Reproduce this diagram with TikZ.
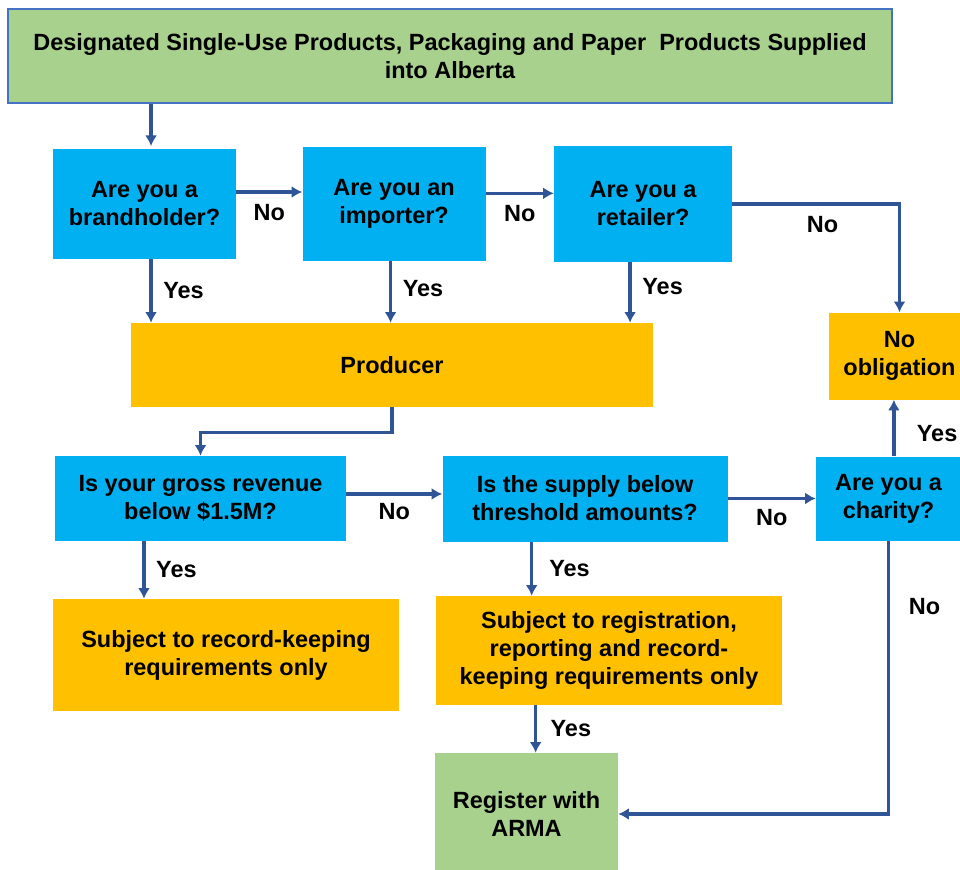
\documentclass[tikz,border=0pt]{standalone}
\usepackage{fontspec}
\setmainfont{Liberation Sans}
\usetikzlibrary{arrows.meta, positioning}

\definecolor{qblue}{RGB}{0,176,240}
\definecolor{ramber}{RGB}{255,192,0}
\definecolor{sgreen}{RGB}{169,209,142}
\definecolor{linkblue}{RGB}{47,85,151}
\definecolor{edgeblue}{RGB}{68,114,196}

\begin{document}
\begin{tikzpicture}[
    x=0.75pt, y=-0.75pt,
    every node/.style={font=\bfseries\fontsize{17.6}{21}\selectfont},
    question/.style={rectangle, fill=qblue, align=center, minimum width=137.25pt, minimum height=84pt},
    outcome/.style={rectangle, fill=ramber, align=center},
    entry/.style={rectangle, fill=sgreen, align=center},
    arrow/.style={-{Latex[length=8pt, width=9pt]}, line width=2.4pt, draw=linkblue},
    lbl/.style={inner sep=2pt}
]
\useasboundingbox (0,0) rectangle (960,870);
\clip (0,0) rectangle (960,870);

% Nodes
\node (top) [entry, draw=edgeblue, line width=1pt, minimum width=663pt, minimum height=70.5pt] at (450,56) {Designated Single-Use Products, Packaging and Paper\ \ Products Supplied\\into Alberta};
\node (brand) [question, minimum height=82.5pt] at (144.5,204) {Are you a\\brandholder?};
\node (importer) [question, minimum height=85.5pt, right=49.5pt of brand] {Are you an\\importer?};
\node (retailer) [question, minimum width=133.5pt, minimum height=86.25pt, right=51pt of importer] {Are you a\\retailer?};
\node (noobl) [outcome, minimum width=105.75pt, minimum height=65.25pt] at (899.5,356) {No\\obligation};
\node (producer) [outcome, minimum width=391.5pt, minimum height=63pt] at (392,365) {Producer};
\node (revenue) [question, minimum width=218.25pt, minimum height=63.75pt] at (200.5,498.5) {Is your gross revenue\\below \$1.5M?};
\node (supply) [question, minimum width=213.75pt, minimum height=64.5pt, right=72pt of revenue] {Is the supply below\\threshold amounts?};
\node (charity) [question, minimum width=108.75pt, minimum height=63pt, right=66pt of supply] {Are you a\\charity?};
\node (record) [outcome, minimum width=259.5pt, minimum height=84pt] at (226,655) {Subject to record-keeping\\requirements only};
\node (registration) [outcome, minimum width=259.5pt, minimum height=81.75pt] at (609,650.5) {Subject to registration,\\reporting and record-\\keeping requirements only};
\node (register) [entry, minimum width=137.25pt, minimum height=91.5pt] at (526.5,814) {Register with\\ARMA};

% Arrows
\draw [arrow] ([xshift=4.9pt]brand.north |- top.south) -- ([xshift=4.9pt, yshift=2pt]brand.north);
\draw [arrow] ([yshift=9pt]brand.east) -- ([yshift=9pt]brand.east -| importer.west) node[midway, below=6pt, lbl] {No};
\draw [arrow] ([yshift=8pt]importer.east) -- ([yshift=8pt]importer.east -| retailer.west) node[midway, below=6pt, lbl] {No};
\draw [arrow] (retailer.east) -| (noobl.north) node[pos=0.27, below=6pt, lbl] {No};
\draw [arrow] ([xshift=4.9pt]brand.south) -- ([xshift=4.9pt]brand.south |- producer.north) node[midway, right=6pt, lbl] {Yes};
\draw [arrow] ([xshift=-2.6pt]importer.south) -- ([xshift=-2.6pt]importer.south |- producer.north) node[pos=0.45, right=6pt, lbl] {Yes};
\draw [arrow] ([xshift=-9.75pt]retailer.south) -- ([xshift=-9.75pt]retailer.south |- producer.north) node[pos=0.4, right=6pt, lbl] {Yes};
\draw [arrow] (producer.south) -- ++(0,25) -| (revenue.north);
\draw [arrow] ([yshift=3.4pt]revenue.east) -- ([yshift=3.4pt]revenue.east -| supply.west) node[midway, below=4pt, lbl] {No};
\draw [arrow] (supply.east) -- (supply.east -| charity.west) node[midway, below=5pt, lbl] {No};
\draw [arrow] ([xshift=4pt]charity.north) -- ([xshift=4pt]charity.north |- noobl.south) node[pos=0.4, right=14pt, lbl] {Yes};
\draw [arrow] (charity.south) |- (register.east) node[pos=0.12, right=12pt, lbl] {No};
\draw [arrow] ([xshift=-42.4pt]revenue.south) -- ([xshift=-42.4pt]revenue.south |- record.north) node[midway, right=6pt, lbl] {Yes};
\draw [arrow] ([xshift=-40pt]supply.south) -- ([xshift=-40pt]supply.south |- registration.north) node[midway, right=10pt, lbl] {Yes};
\draw [arrow] ([xshift=-55pt]registration.south) -- ([xshift=-55pt]registration.south |- register.north) node[midway, right=8pt, lbl] {Yes};

\end{tikzpicture}
\end{document}
